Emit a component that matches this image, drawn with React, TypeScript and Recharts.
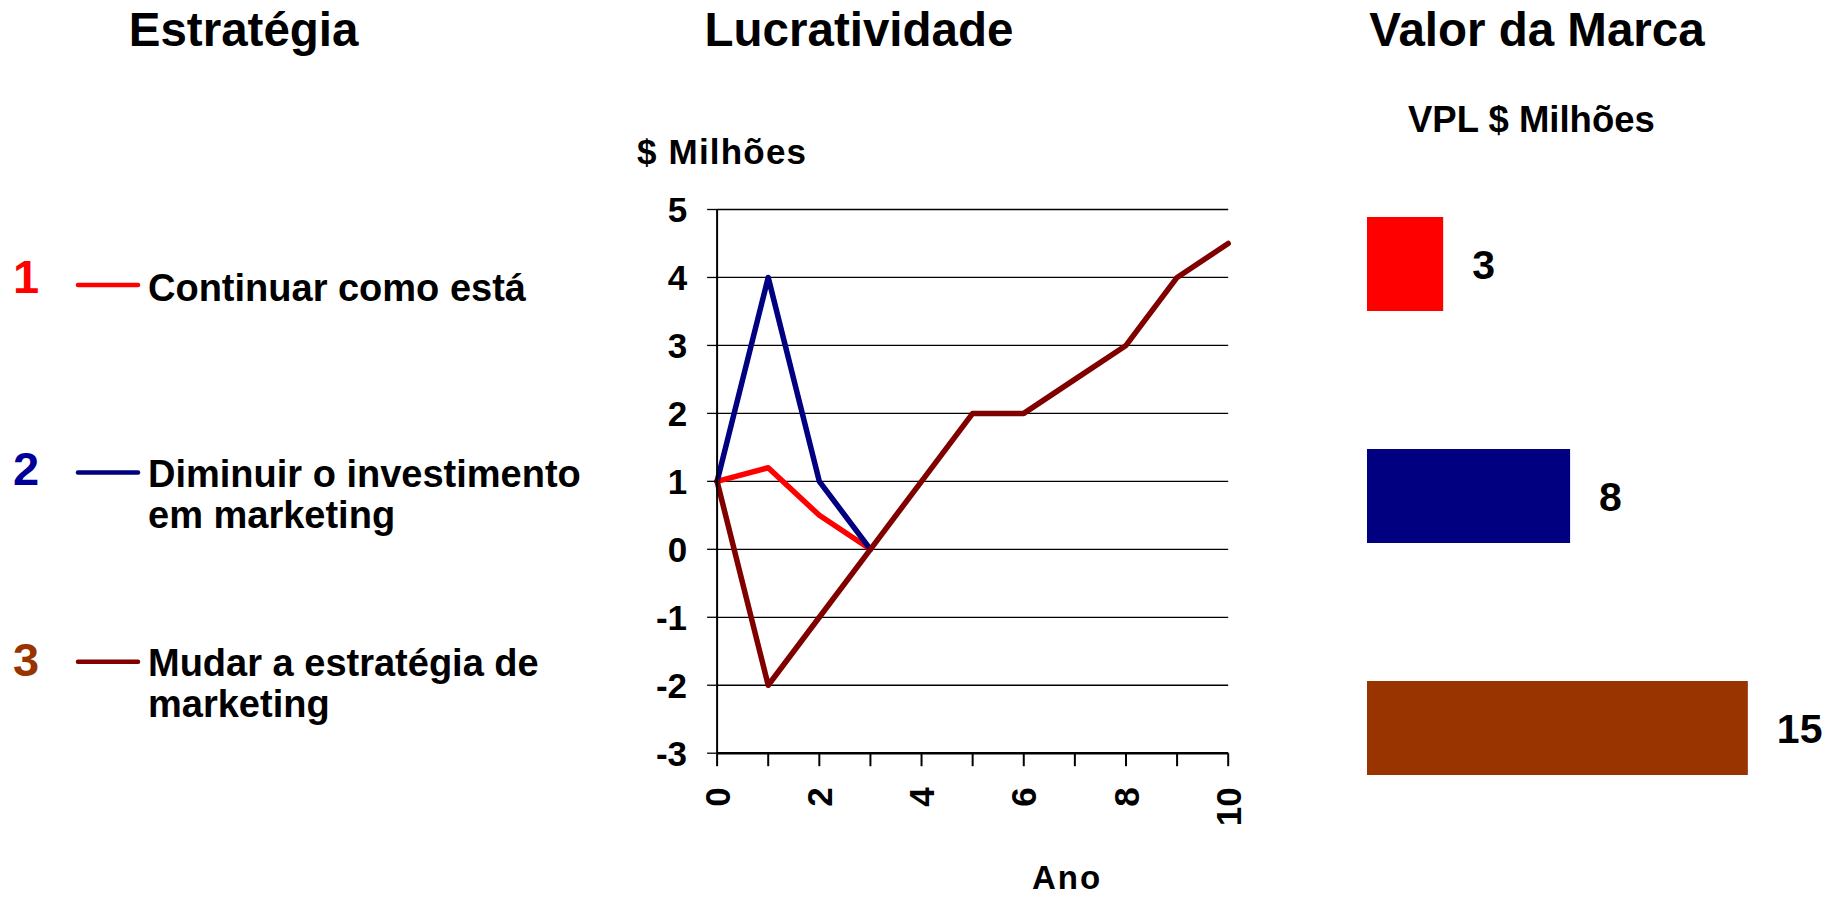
import React from 'react';
import { LineChart, Line, XAxis, YAxis, CartesianGrid, BarChart, Bar, Cell, LabelList } from 'recharts';

const FONT = "'Liberation Sans', Arial, Helvetica, sans-serif";

// Lucratividade ($ Milhões) por ano
const years = [0, 1, 2, 3, 4, 5, 6, 7, 8, 9, 10];
const continuar = [1, 1.2, 0.5, 0, null, null, null, null, null, null, null];
const diminuir = [1, 4, 1, 0, null, null, null, null, null, null, null];
const mudar = [1, -2, -1, 0, 1, 2, 2, 2.5, 3, 4, 4.5];
const yTicks = [-3, -2, -1, 0, 1, 2, 3, 4, 5];
const xTicks = [0, 1, 2, 3, 4, 5, 6, 7, 8, 9, 10];
const xLabelTicks = [0, 2, 4, 6, 8, 10];

// Estratégias
const strategyNumbers = ['1', '2', '3'];
const strategyLabels = [
  ['Continuar como está'],
  ['Diminuir o investimento', 'em marketing'],
  ['Mudar a estratégia de', 'marketing'],
];
const seriesKeys = ['continuar', 'diminuir', 'mudar'];
const lineColors = ['#FF0000', '#000080', '#800000'];
const numberColors = ['#FF0000', '#000099', '#993300'];

// Valor da Marca (VPL $ Milhões)
const vplValues = [3, 8, 15];
const barColors = ['#FF0000', '#000080', '#993300'];

const lineData = years.map((y, i) => ({
  year: y,
  continuar: continuar[i],
  diminuir: diminuir[i],
  mudar: mudar[i],
}));
const barData = vplValues.map((v, i) => ({ name: strategyNumbers[i], value: v }));

const legendY = [
  { num: 293, line: 285, text: [300.5] },
  { num: 484.7, line: 472.6, text: [487, 528] },
  { num: 676, line: 661.7, text: [676, 717] },
];

const XTick = (props: any) => {
  const { x, y, payload } = props;
  if (!xLabelTicks.includes(payload.value)) return <g />;
  return (
    <text
      x={x}
      y={y}
      transform={`rotate(-90, ${x}, ${y})`}
      textAnchor="end"
      dy="0.36em"
      fill="#000"
      fontSize={35}
      fontWeight="bold"
      fontFamily={FONT}
    >
      {payload.value}
    </text>
  );
};

const BarValueLabel = (props: any) => {
  const { x, y, width, height, value } = props;
  return (
    <text
      x={Number(x) + Number(width) + 29}
      y={Number(y) + Number(height) / 2}
      dy="0.36em"
      textAnchor="start"
      fill="#000"
      fontSize={41}
      fontWeight="bold"
      fontFamily={FONT}
    >
      {value}
    </text>
  );
};

export default function App() {
  return (
    <div style={{ position: 'absolute', left: 0, top: 0, width: 1836, height: 900, background: '#fff', overflow: 'hidden' }}>
      <svg width={1836} height={900} style={{ position: 'absolute', left: 0, top: 0 }} fontFamily={FONT} fontWeight="bold">
        <text x={243.6} y={46} textAnchor="middle" fontSize={47.5} fill="#000">Estratégia</text>
        <text x={859} y={46} textAnchor="middle" fontSize={47.5} fill="#000">Lucratividade</text>
        <text x={1537} y={46} textAnchor="middle" fontSize={47.5} fill="#000">Valor da Marca</text>
        <text x={637} y={164} fontSize={35} letterSpacing={1.2} fill="#000">$ Milhões</text>
        <text x={1067} y={889} textAnchor="middle" fontSize={33} letterSpacing={2} fill="#000">Ano</text>
        <text x={1408} y={132} fontSize={36.5} fill="#000">VPL $ Milhões</text>
        {strategyNumbers.map((n, i) => (
          <g key={n}>
            <text x={13} y={legendY[i].num} fontSize={47} fill={numberColors[i]}>{n}</text>
            <line x1={78} x2={138} y1={legendY[i].line} y2={legendY[i].line} stroke={lineColors[i]} strokeWidth={4.5} strokeLinecap="round" />
            {strategyLabels[i].map((t, j) => (
              <text key={j} x={148} y={legendY[i].text[j]} fontSize={38} fill="#000">{t}</text>
            ))}
          </g>
        ))}
      </svg>

      <div style={{ position: 'absolute', left: 600, top: 150 }}>
        <LineChart width={700} height={700} data={lineData} margin={{ top: 59.5, right: 71.8, left: 37.1, bottom: 16.8 }}>
          <CartesianGrid vertical={false} stroke="#000" strokeWidth={1.3} />
          <XAxis
            type="number"
            dataKey="year"
            domain={[0, 10]}
            ticks={xTicks}
            interval={0}
            height={80}
            tickSize={13}
            tickMargin={21}
            axisLine={{ stroke: '#000', strokeWidth: 2.5 }}
            tickLine={{ stroke: '#000', strokeWidth: 2 }}
            tick={<XTick />}
          />
          <YAxis
            type="number"
            domain={[-3, 5]}
            ticks={yTicks}
            interval={0}
            width={80}
            tickSize={10}
            tickMargin={20}
            axisLine={{ stroke: '#000', strokeWidth: 2 }}
            tickLine={{ stroke: '#000', strokeWidth: 1.3 }}
            tick={{ fill: '#000', fontSize: 35, fontWeight: 'bold', fontFamily: FONT }}
          />
          {seriesKeys.map((k, i) => (
            <Line
              key={k}
              type="linear"
              dataKey={k}
              stroke={lineColors[i]}
              strokeWidth={5.5}
              strokeLinejoin="round"
              strokeLinecap="round"
              dot={false}
              activeDot={false}
              connectNulls={false}
              isAnimationActive={false}
            />
          ))}
        </LineChart>
      </div>

      <div style={{ position: 'absolute', left: 1367, top: 148.3 }}>
        <BarChart layout="vertical" width={469} height={696} data={barData} margin={{ top: 0, right: 12, left: 0, bottom: 0 }}>
          <XAxis type="number" domain={[0, 18]} hide />
          <YAxis type="category" dataKey="name" hide />
          <Bar dataKey="value" barSize={94} isAnimationActive={false}>
            {barData.map((d, i) => (
              <Cell key={d.name} fill={barColors[i]} />
            ))}
            <LabelList dataKey="value" content={<BarValueLabel />} />
          </Bar>
        </BarChart>
      </div>
    </div>
  );
}
